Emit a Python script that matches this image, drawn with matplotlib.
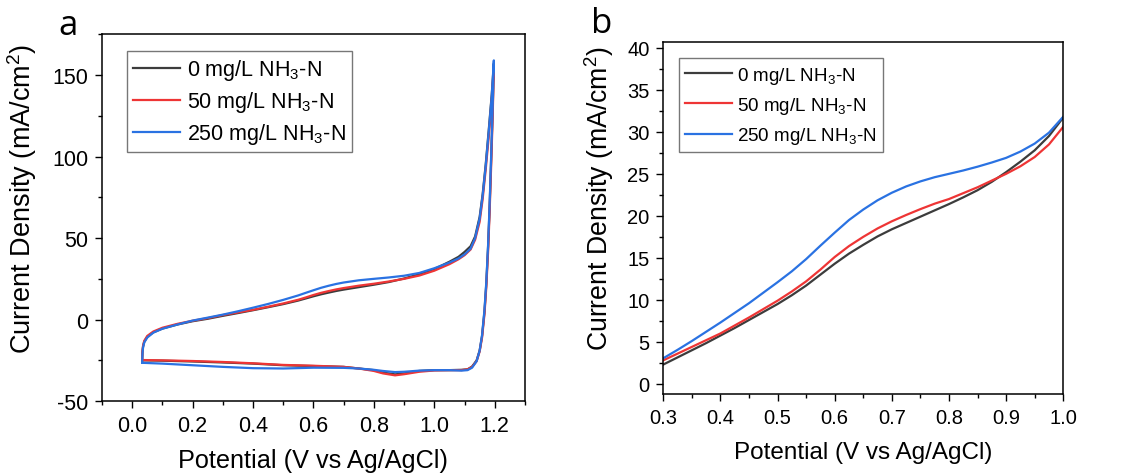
import matplotlib
matplotlib.use("Agg")
import matplotlib.pyplot as plt
from matplotlib.ticker import MultipleLocator

plt.rcParams["font.family"] = ["Liberation Sans", "DejaVu Sans"]
plt.rcParams["mathtext.fontset"] = "custom"
plt.rcParams["mathtext.rm"] = "Liberation Sans"
plt.rcParams["mathtext.it"] = "Liberation Sans:italic"
plt.rcParams["mathtext.bf"] = "Liberation Sans:bold"
plt.rcParams["axes.unicode_minus"] = False

LABELS = ["0 mg/L NH$_3$-N", "50 mg/L NH$_3$-N", "250 mg/L NH$_3$-N"]
COLORS = ["#3c3c3c", "#ee3535", "#2a72e2"]

# --- panel a: cyclic voltammograms (anodic sweep then cathodic return) ---
cv_fwd_x = [0.033, 0.034, 0.036, 0.04, 0.05, 0.07, 0.1, 0.15, 0.2, 0.25,
            0.3, 0.35, 0.4, 0.45, 0.5, 0.55, 0.575, 0.6, 0.625, 0.65, 0.675, 0.7,
            0.75, 0.8, 0.85, 0.9, 0.95, 1.0,
            1.05, 1.08, 1.1, 1.12, 1.135, 1.15, 1.16, 1.17, 1.18, 1.19, 1.197]
cv_fwd_0 = [-25.0, -20.0, -16.5, -13.5, -10.5, -7.8, -5.5, -3.0, -1.0, 0.5,
            2.3, 4.0, 5.75, 7.6, 9.5, 11.7, 13.0, 14.3, 15.5, 16.55, 17.55, 18.4,
            19.9, 21.4, 23.05, 25.2, 27.8, 31.0,
            35.5, 38.5, 41.5, 45.0, 51.0, 63.0, 77.0, 95.0, 116.0, 138.0, 157.0]
cv_fwd_50 = [-24.8, -19.5, -16.0, -13.0, -10.0, -7.3, -5.0, -2.6, -0.7, 0.9,
             2.8, 4.4, 6.0, 7.9, 9.9, 12.2, 13.6, 15.1, 16.4, 17.5, 18.5, 19.35,
             20.8, 22.0, 23.4, 25.0, 27.0, 30.0,
             34.0, 37.0, 39.5, 43.0, 49.0, 60.0, 74.0, 92.0, 112.0, 134.0, 155.0]
cv_fwd_250 = [-26.5, -21.0, -17.0, -14.0, -11.0, -8.0, -5.6, -3.0, -0.6, 1.2,
              3.05, 5.1, 7.3, 9.6, 12.1, 14.85, 16.45, 18.0, 19.5, 20.75, 21.85, 22.75,
              24.1, 25.0, 25.85, 26.9, 28.6, 31.5,
              35.0, 37.5, 40.0, 43.5, 50.0, 62.0, 76.0, 94.0, 115.0, 137.0, 159.0]

cv_rev_x = [1.197, 1.193, 1.188, 1.183, 1.178, 1.172, 1.166, 1.158, 1.15, 1.14,
            1.125, 1.11, 1.09, 1.05, 1.0, 0.95, 0.9, 0.87, 0.83, 0.8, 0.75, 0.7,
            0.6, 0.5, 0.4, 0.3, 0.2, 0.1, 0.033]
cv_rev_0 = [157.0, 128.0, 98.0, 69.0, 45.0, 22.0, 5.0, -10.0, -19.0, -25.0,
            -28.8, -30.5, -30.8, -31.0, -31.0, -31.5, -33.0, -33.6, -32.5, -31.0, -30.0, -29.0,
            -28.5, -28.0, -27.0, -26.3, -25.7, -25.2, -25.0]
cv_rev_50 = [155.0, 124.0, 94.0, 66.0, 42.0, 20.0, 3.5, -11.0, -19.5, -25.5,
             -29.0, -30.5, -31.0, -31.0, -31.2, -32.0, -33.5, -34.2, -33.0, -31.5, -30.0, -29.0,
             -28.3, -27.8, -26.8, -26.0, -25.4, -25.0, -24.8]
cv_rev_250 = [159.0, 130.0, 100.0, 71.0, 46.0, 23.0, 6.0, -9.5, -19.0, -25.5,
              -29.5, -31.0, -31.3, -31.0, -31.0, -31.3, -32.0, -32.2, -31.5, -30.8, -30.0, -29.6,
              -29.5, -30.0, -29.8, -29.0, -28.0, -27.0, -26.5]

# --- panel b: anodic sweep 0.3-1.0 V ---
lsv_x = [0.3, 0.325, 0.35, 0.375, 0.4, 0.425, 0.45, 0.475, 0.5, 0.525, 0.55, 0.575,
         0.6, 0.625, 0.65, 0.675, 0.7, 0.725, 0.75, 0.775, 0.8, 0.825, 0.85, 0.875,
         0.9, 0.925, 0.95, 0.975, 1.0]
lsv_0 = [2.3, 3.15, 4.0, 4.85, 5.75, 6.65, 7.6, 8.55, 9.5, 10.55, 11.7, 13.0,
         14.3, 15.5, 16.55, 17.55, 18.4, 19.15, 19.9, 20.65, 21.4, 22.2, 23.05, 24.05,
         25.2, 26.45, 27.8, 29.5, 31.7]
lsv_50 = [2.8, 3.6, 4.4, 5.2, 6.0, 6.95, 7.9, 8.9, 9.9, 11.0, 12.2, 13.6,
          15.1, 16.4, 17.5, 18.5, 19.35, 20.1, 20.8, 21.45, 22.0, 22.7, 23.4, 24.2,
          25.0, 25.9, 27.0, 28.5, 30.6]
lsv_250 = [3.05, 4.05, 5.1, 6.2, 7.3, 8.45, 9.6, 10.85, 12.1, 13.4, 14.85, 16.45,
           18.0, 19.5, 20.75, 21.85, 22.75, 23.5, 24.1, 24.6, 25.0, 25.4, 25.85, 26.35,
           26.9, 27.65, 28.6, 29.9, 31.8]


def style_axes(ax, tick_size):
    ax.tick_params(which="both", direction="out", top=False, right=False,
                   labelsize=tick_size, width=1.0, color="black", pad=5)
    ax.tick_params(which="major", length=5)
    ax.tick_params(which="minor", length=3)
    for sp in ax.spines.values():
        sp.set_linewidth(1.1)


fig = plt.figure(figsize=(11.28, 4.77), dpi=100)
ax_a = fig.add_axes([0.0904, 0.157, 0.375, 0.769])
ax_b = fig.add_axes([0.588, 0.172, 0.3546, 0.738])

fwd_a = [cv_fwd_0, cv_fwd_50, cv_fwd_250]
rev_a = [cv_rev_0, cv_rev_50, cv_rev_250]
for fwd, rev, lab, col in zip(fwd_a, rev_a, LABELS, COLORS):
    ax_a.plot(cv_fwd_x + cv_rev_x, fwd + rev, color=col, lw=1.6, label=lab)

ax_a.set_xlim(-0.1, 1.3)
ax_a.set_ylim(-50, 175)
ax_a.xaxis.set_minor_locator(MultipleLocator(0.1))
ax_a.yaxis.set_major_locator(MultipleLocator(50))
ax_a.yaxis.set_minor_locator(MultipleLocator(25))
ax_a.set_xticks([0.0, 0.2, 0.4, 0.6, 0.8, 1.0, 1.2])
ax_a.set_xticklabels(["0.0", "0.2", "0.4", "0.6", "0.8", "1.0", "1.2"])
style_axes(ax_a, 15.5)
ax_a.set_xlabel("Potential (V vs Ag/AgCl)", fontsize=18.2)
ax_a.set_ylabel("Current Density (mA/cm$^2$)", fontsize=19.5)
ax_a.xaxis.set_label_coords(0.5, -0.128)
ax_a.yaxis.set_label_coords(-0.150, 0.553)
ax_a.legend(loc="upper left", bbox_to_anchor=(0.059, 0.954), borderaxespad=0,
            fontsize=15.5, frameon=True, fancybox=False, edgecolor="#555555",
            handlelength=2.2, handletextpad=0.3, labelspacing=0.33, borderpad=0.28)
ax_a.get_legend().get_frame().set_linewidth(1.0)

for ys, lab, col in zip([lsv_0, lsv_50, lsv_250], LABELS, COLORS):
    ax_b.plot(lsv_x, ys, color=col, lw=1.6, label=lab)

ax_b.set_xlim(0.3, 1.0)
ax_b.set_ylim(-1.2, 40.7)
ax_b.xaxis.set_major_locator(MultipleLocator(0.1))
ax_b.xaxis.set_minor_locator(MultipleLocator(0.05))
ax_b.yaxis.set_major_locator(MultipleLocator(5))
ax_b.yaxis.set_minor_locator(MultipleLocator(2.5))
style_axes(ax_b, 14.5)
ax_b.set_xlabel("Potential (V vs Ag/AgCl)", fontsize=17.5)
ax_b.set_ylabel("Current Density (mA/cm$^2$)", fontsize=19.2)
ax_b.xaxis.set_label_coords(0.5, -0.133)
ax_b.yaxis.set_label_coords(-0.117, 0.557)
ax_b.legend(loc="upper left", bbox_to_anchor=(0.04, 0.953), borderaxespad=0,
            fontsize=13.6, frameon=True, fancybox=False, edgecolor="#555555",
            handlelength=2.45, handletextpad=0.3, labelspacing=0.5, borderpad=0.32)
ax_b.get_legend().get_frame().set_linewidth(1.0)

fig.text(0.06, 0.945, "a", fontsize=25, family=["Open Sans", "DejaVu Sans"], ha="center", va="center")
fig.text(0.533, 0.95, "b", fontsize=25, family=["Open Sans", "DejaVu Sans"], ha="center", va="center")

fig.savefig("out.png", dpi=100)
